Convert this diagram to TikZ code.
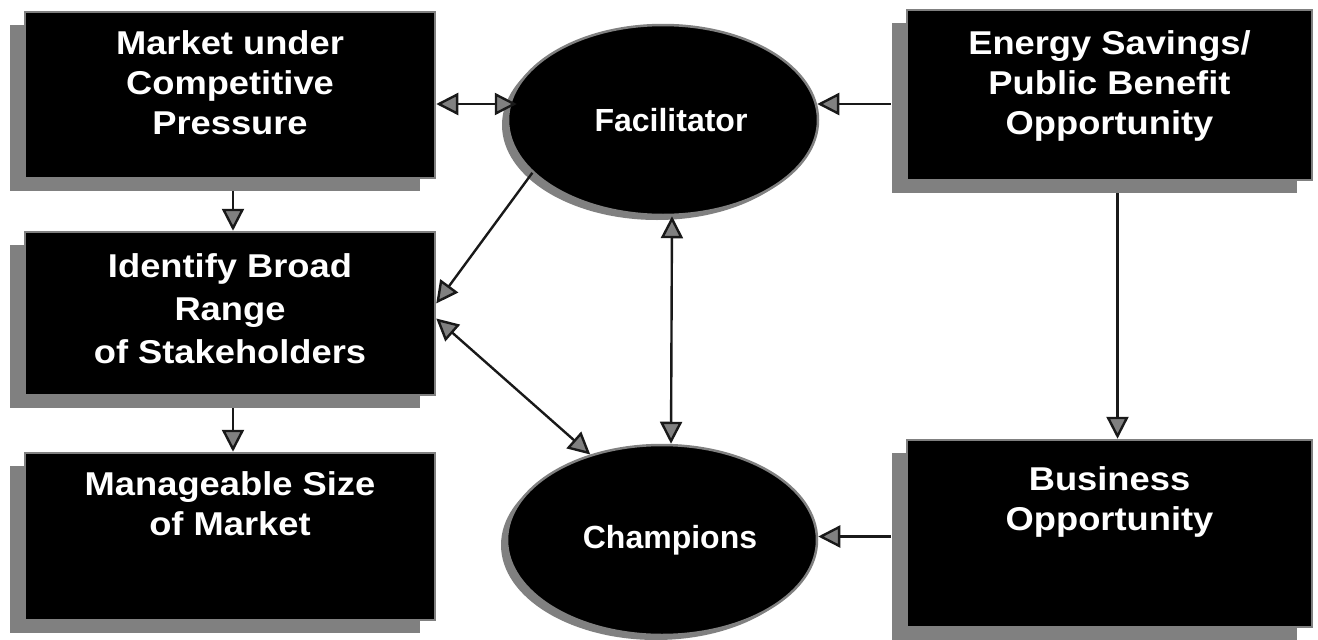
\documentclass[tikz,border=0pt]{standalone}
\usepackage{fontspec}
\setmainfont{Liberation Sans}
\newfontfamily\boxfnt[FakeStretch=1.1]{Liberation Sans}
\usetikzlibrary{arrows.meta,shapes.geometric,calc,shadows}
\begin{document}
\begin{tikzpicture}[x=1pt,y=-1pt,
  boxnode/.style={rectangle, fill=black, draw=black!50, line width=2.5pt, inner sep=0pt,
    drop shadow={shadow xshift=-15pt, shadow yshift=-13pt, opacity=1, fill=black!50}},
  boxtext/.style={text=white, anchor=north, align=center, inner sep=0pt,
    font=\boxfnt\bfseries\fontsize{33}{40}\selectfont},
  ellnode/.style={ellipse, fill=black, draw=black!50, line width=2.5pt,
    minimum width=310pt, minimum height=190pt, inner sep=0pt, text=white,
    font=\bfseries\fontsize{32}{38}\selectfont,
    drop shadow={shadow xshift=-6pt, shadow yshift=-5pt, opacity=1, fill=black!50}},
  >={Triangle[length=22pt,width=22pt,fill=black!50]},
  conn/.style={draw=black!90, line width=2.4pt}
]
\useasboundingbox (0,0) rectangle (1318,640);
\fill[white] (0,0) rectangle (1318,640);

% boxes
\node[boxnode, minimum width=410pt, minimum height=166pt] (market) at (230,95) {};
\node[boxtext] (markett) at ($(market.north)+(0,20)$) {Market under\\Competitive\\Pressure};

\node[boxnode, minimum width=410pt, minimum height=163pt] (identify) at (230,313.5) {};
\node[boxtext] (identifyt) at ($(identify.north)+(0,23)$) {Identify Broad\\[3pt]Range\\[3pt]of Stakeholders};

\node[boxnode, minimum width=410pt, minimum height=167pt] (manage) at (230,536.5) {};
\node[boxtext] (managet) at ($(manage.north)+(0,20)$) {Manageable Size\\of Market};

\node[boxnode, minimum width=405pt, minimum height=170pt] (energy) at (1109.5,95) {};
\node[boxtext] (energyt) at ($(energy.north)+(0,22)$) {Energy Savings/\\Public Benefit\\Opportunity};

\node[boxnode, minimum width=405pt, minimum height=187pt] (business) at (1109.5,533.5) {};
\node[boxtext] (businesst) at ($(business.north)+(0,28)$) {Business\\Opportunity};

% ellipses
\node[ellnode] (fac) at (663,120) {\hspace*{16pt}Facilitator};
\node[ellnode] (champ) at (662,540) {\hspace*{16pt}Champions};

% connectors
\draw[conn,<->] ($(market.east)+(0,9)$) -- ($(market.east -| fac.west)+(10,9)$);
\draw[conn,->] ($(energy.west)+(-15,9)$) -- ($(energy.west -| fac.east)+(-2,9)$);
\draw[conn,->] ($(market.south)+(3,12)$) -- ($(identify.north)+(3,0)$);
\draw[conn,->] ($(identify.south)+(3,12)$) -- ($(manage.north)+(3,0)$);
\draw[conn,->] (fac.202) -- ($(identify.east)+(0,-10)$);
\draw[conn,<->] ($(identify.east)+(0,5)$) -- (champ.130);
\draw[conn,<->] ($(fac.south)+(9,0)$) -- ($(champ.north)+(9,0)$);
\draw[conn,->] ($(energy.south)+(8,12)$) -- ($(business.north)+(8,0)$);
\draw[conn,->] ($(business.west)+(-15,3)$) -- ($(business.west -| champ.east)+(0,3)$);
\end{tikzpicture}
\end{document}
